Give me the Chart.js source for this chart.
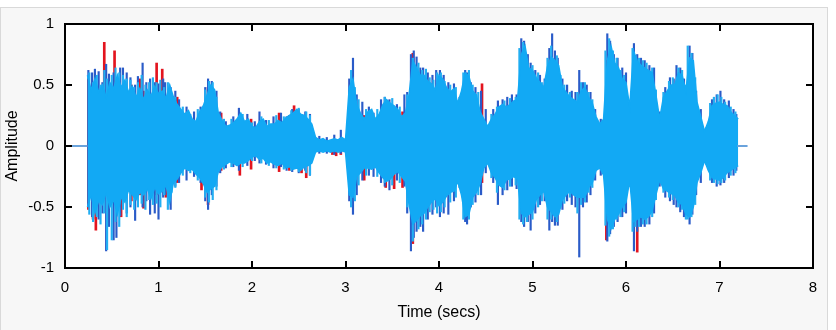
<!DOCTYPE html>
<html><head><meta charset="utf-8">
<script src="https://cdn.jsdelivr.net/npm/chart.js@4.4.1/dist/chart.umd.min.js"></script>
<style>
html,body{margin:0;padding:0;background:#fff;}
#frame{position:absolute;left:0;top:7px;width:826px;height:322px;border:1px solid #d9d9d9;background:#f7f7f7;}
#c{position:absolute;left:0;top:0;}
</style></head><body>
<div id="frame"></div>
<canvas id="c" width="836" height="330"></canvas>
<script>
// ---- data ----
const xTicks = [0,1,2,3,4,5,6,7,8];
const yTicks = [-1,-0.5,0,0.5,1];
const sampleStart = 0.24, sampleStep = 0.04;   // envelope sample times (s)
const coreHi = [
 0.58,0.46,0.55,0.44,0.50,0.40,0.52,0.47,0.58,0.48,
 0.54,0.44,0.49,0.40,0.47,0.38,0.46,0.41,0.49,0.43,
 0.45,0.39,0.50,0.40,0.34,0.30,0.26,0.29,0.22,0.20,
 0.28,0.33,0.42,0.50,0.46,0.27,0.21,0.16,0.17,0.19,
 0.22,0.27,0.20,0.22,0.16,0.15,0.20,0.22,0.16,0.18,
 0.18,0.21,0.19,0.23,0.25,0.27,0.30,0.26,0.25,0.22,
 0.18,0.07,0.05,0.06,0.04,0.05,0.06,0.05,0.07,0.05,
 0.48,0.55,0.34,0.27,0.22,0.28,0.30,0.22,0.26,0.34,
 0.38,0.35,0.33,0.30,0.24,0.27,0.42,0.70,0.64,0.58,
 0.58,0.53,0.51,0.46,0.58,0.55,0.48,0.44,0.47,0.35,
 0.45,0.60,0.57,0.45,0.42,0.28,0.22,0.16,0.22,0.26,
 0.32,0.34,0.32,0.34,0.37,0.38,0.75,0.82,0.64,0.62,
 0.56,0.52,0.48,0.65,0.73,0.70,0.66,0.48,0.44,0.40,
 0.38,0.36,0.45,0.48,0.40,0.35,0.24,0.18,0.22,0.70,
 0.82,0.68,0.64,0.55,0.52,0.32,0.78,0.70,0.66,0.64,
 0.62,0.60,0.42,0.22,0.40,0.45,0.50,0.50,0.60,0.58,
 0.45,0.72,0.70,0.36,0.24,0.12,0.20,0.33,0.35,0.36,
 0.34,0.33,0.28,0.25,0.22];
const coreLo = [
 -0.50,-0.40,-0.55,-0.45,-0.48,-0.38,-0.50,-0.44,-0.56,-0.42,
 -0.46,-0.36,-0.40,-0.44,-0.38,-0.40,-0.35,-0.43,-0.34,-0.39,
 -0.37,-0.32,-0.46,-0.30,-0.27,-0.22,-0.18,-0.20,-0.19,-0.23,
 -0.26,-0.31,-0.38,-0.35,-0.33,-0.21,-0.17,-0.15,-0.13,-0.14,
 -0.16,-0.14,-0.14,-0.12,-0.09,-0.08,-0.11,-0.10,-0.14,-0.13,
 -0.15,-0.16,-0.14,-0.18,-0.17,-0.19,-0.18,-0.20,-0.17,-0.16,
 -0.14,-0.05,-0.04,-0.05,-0.04,-0.05,-0.04,-0.05,-0.04,-0.05,
 -0.40,-0.42,-0.25,-0.22,-0.18,-0.18,-0.19,-0.17,-0.22,-0.26,
 -0.29,-0.27,-0.23,-0.21,-0.25,-0.29,-0.48,-0.64,-0.61,-0.57,
 -0.55,-0.50,-0.46,-0.43,-0.49,-0.46,-0.41,-0.38,-0.37,-0.29,
 -0.40,-0.58,-0.56,-0.42,-0.38,-0.31,-0.18,-0.14,-0.22,-0.26,
 -0.32,-0.34,-0.28,-0.27,-0.25,-0.27,-0.55,-0.58,-0.56,-0.54,
 -0.44,-0.40,-0.37,-0.50,-0.54,-0.58,-0.56,-0.44,-0.40,-0.37,
 -0.40,-0.42,-0.42,-0.42,-0.34,-0.30,-0.20,-0.18,-0.24,-0.60,
 -0.68,-0.60,-0.56,-0.50,-0.46,-0.28,-0.62,-0.60,-0.58,-0.60,
 -0.58,-0.53,-0.40,-0.28,-0.35,-0.37,-0.39,-0.40,-0.46,-0.48,
 -0.56,-0.58,-0.50,-0.30,-0.22,-0.12,-0.20,-0.26,-0.27,-0.28,
 -0.26,-0.22,-0.20,-0.18,-0.16];
const leadT = [0, 0.24], leadV = [0, 0];
const tailT = [7.19, 7.30], tailV = [0, 0];
const lightT  = [0.26,0.30,0.34,0.38,0.42,0.45,0.50,0.54,0.58,0.62,0.66,0.70,0.74,0.78,0.82,0.86,0.90,0.94,0.98,1.02,1.06,1.10,1.14,1.18,1.26,1.34,1.42,1.50,1.54,1.58,1.62,1.70,1.78,1.90,2.00,2.10,2.18,2.26,2.34,2.42,2.50,2.58,2.62,3.06,3.10,3.14,3.22,3.34,3.42,3.50,3.58,3.66,3.72,3.78,3.82,3.86,3.90,3.94,3.98,4.02,4.06,4.12,4.18,4.26,4.32,4.36,4.42,4.56,4.62,4.70,4.76,4.82,4.86,4.90,4.94,5.00,5.06,5.10,5.16,5.20,5.26,5.30,5.34,5.40,5.48,5.52,5.56,5.60,5.64,5.78,5.82,5.86,5.90,5.94,5.98,6.07,6.10,6.14,6.18,6.22,6.28,6.32,6.40,6.46,6.50,6.56,6.60,6.64,6.66,6.70,6.74,6.90,6.94,6.98,7.02,7.06,7.12,7.17];
const lightLo = [-0.56,-0.62,-0.58,-0.64,-0.55,-0.85,-0.77,-0.62,-0.66,-0.52,-0.58,-0.48,-0.52,-0.50,-0.47,-0.52,-0.44,-0.48,-0.47,-0.50,-0.40,-0.52,-0.38,-0.34,-0.24,-0.22,-0.28,-0.42,-0.46,-0.44,-0.36,-0.19,-0.17,-0.17,-0.12,-0.14,-0.16,-0.18,-0.19,-0.20,-0.21,-0.22,-0.24,-0.50,-0.45,-0.32,-0.24,-0.25,-0.30,-0.32,-0.30,-0.50,-0.78,-0.68,-0.64,-0.60,-0.54,-0.52,-0.55,-0.54,-0.50,-0.46,-0.42,-0.60,-0.60,-0.48,-0.40,-0.26,-0.38,-0.36,-0.33,-0.32,-0.60,-0.64,-0.62,-0.60,-0.50,-0.45,-0.60,-0.60,-0.62,-0.50,-0.47,-0.42,-0.55,-0.48,-0.46,-0.38,-0.34,-0.65,-0.74,-0.68,-0.60,-0.58,-0.54,-0.70,-0.66,-0.66,-0.64,-0.64,-0.58,-0.44,-0.38,-0.42,-0.44,-0.50,-0.52,-0.60,-0.60,-0.58,-0.48,-0.28,-0.30,-0.31,-0.30,-0.28,-0.24,-0.22];
const lightHi = [0.60,0.52,0.58,0.50,0.62,0.55,0.58,0.64,0.60,0.58,0.55,0.54,0.48,0.52,0.58,0.50,0.52,0.56,0.52,0.54,0.48,0.52,0.42,0.40,0.32,0.26,0.30,0.46,0.53,0.52,0.40,0.22,0.22,0.26,0.19,0.24,0.21,0.25,0.24,0.29,0.31,0.28,0.25,0.62,0.48,0.38,0.30,0.30,0.40,0.39,0.32,0.42,0.72,0.68,0.62,0.63,0.56,0.54,0.60,0.60,0.53,0.50,0.48,0.60,0.62,0.50,0.44,0.26,0.32,0.37,0.39,0.40,0.80,0.85,0.70,0.66,0.60,0.52,0.72,0.82,0.74,0.58,0.50,0.44,0.44,0.52,0.52,0.44,0.38,0.78,0.88,0.78,0.72,0.62,0.58,0.80,0.74,0.72,0.70,0.68,0.64,0.46,0.44,0.53,0.56,0.64,0.62,0.50,0.82,0.76,0.56,0.35,0.40,0.42,0.40,0.36,0.32,0.28];
const blueT  = [0.25,0.29,0.32,0.36,0.40,0.44,0.47,0.52,0.55,0.59,0.62,0.66,0.70,0.75,0.78,0.83,0.87,0.91,0.96,1.00,1.05,1.07,1.13,1.18,1.22,1.30,1.38,1.45,1.50,1.53,1.57,1.62,1.66,1.72,1.80,1.86,1.95,2.03,2.08,2.15,2.23,2.31,2.37,2.43,2.50,2.57,2.62,2.72,2.80,2.88,2.95,3.04,3.08,3.12,3.18,3.25,3.30,3.38,3.42,3.47,3.55,3.63,3.66,3.70,3.73,3.76,3.80,3.83,3.88,3.93,3.97,4.01,4.05,4.10,4.16,4.22,4.28,4.30,4.34,4.39,4.45,4.50,4.58,4.63,4.68,4.73,4.78,4.83,4.88,4.91,4.95,4.98,5.03,5.08,5.13,5.18,5.21,5.24,5.27,5.32,5.37,5.42,5.46,5.50,5.54,5.58,5.62,5.67,5.73,5.80,5.83,5.87,5.91,5.96,6.00,6.04,6.085,6.12,6.16,6.20,6.25,6.30,6.36,6.42,6.47,6.51,6.54,6.58,6.62,6.68,6.71,6.75,6.80,6.86,6.92,6.97,7.01,7.05,7.10,7.15,7.18];
const blueLo = [-0.50,-0.58,-0.45,-0.60,-0.55,-0.86,-0.66,-0.77,-0.75,-0.57,-0.48,-0.55,-0.50,-0.61,-0.45,-0.50,-0.45,-0.56,-0.55,-0.60,-0.42,-0.40,-0.52,-0.33,-0.30,-0.28,-0.25,-0.30,-0.45,-0.52,-0.40,-0.33,-0.22,-0.18,-0.17,-0.20,-0.16,-0.12,-0.14,-0.15,-0.18,-0.17,-0.20,-0.21,-0.22,-0.20,-0.24,-0.06,-0.06,-0.07,-0.06,-0.45,-0.56,-0.40,-0.28,-0.24,-0.25,-0.30,-0.33,-0.36,-0.28,-0.33,-0.55,-0.86,-0.75,-0.70,-0.66,-0.70,-0.60,-0.56,-0.50,-0.58,-0.55,-0.56,-0.45,-0.34,-0.62,-0.64,-0.50,-0.46,-0.40,-0.22,-0.30,-0.48,-0.40,-0.36,-0.33,-0.35,-0.62,-0.66,-0.62,-0.69,-0.55,-0.48,-0.45,-0.69,-0.62,-0.65,-0.65,-0.52,-0.45,-0.48,-0.50,-0.91,-0.50,-0.46,-0.40,-0.28,-0.24,-0.78,-0.72,-0.66,-0.62,-0.58,-0.55,-0.33,-0.86,-0.70,-0.66,-0.66,-0.64,-0.55,-0.33,-0.42,-0.45,-0.48,-0.50,-0.54,-0.58,-0.64,-0.56,-0.40,-0.30,-0.15,-0.30,-0.33,-0.32,-0.30,-0.26,-0.24,-0.20];
const blueHi = [0.62,0.60,0.63,0.61,0.52,0.67,0.59,0.60,0.55,0.64,0.64,0.60,0.56,0.50,0.57,0.68,0.52,0.55,0.52,0.51,0.55,0.52,0.48,0.45,0.38,0.32,0.28,0.32,0.48,0.55,0.53,0.45,0.28,0.20,0.24,0.31,0.26,0.20,0.28,0.21,0.24,0.27,0.24,0.30,0.30,0.28,0.26,0.08,0.07,0.09,0.13,0.55,0.72,0.42,0.36,0.32,0.27,0.38,0.40,0.38,0.34,0.42,0.44,0.75,0.78,0.73,0.64,0.64,0.60,0.58,0.62,0.62,0.58,0.52,0.51,0.40,0.62,0.60,0.52,0.48,0.45,0.30,0.30,0.37,0.38,0.40,0.42,0.42,0.88,0.86,0.75,0.68,0.62,0.58,0.55,0.80,0.92,0.78,0.72,0.55,0.50,0.45,0.44,0.62,0.52,0.50,0.44,0.30,0.22,0.92,0.86,0.75,0.72,0.64,0.60,0.36,0.84,0.75,0.72,0.70,0.66,0.64,0.28,0.48,0.56,0.55,0.66,0.64,0.55,0.82,0.76,0.45,0.30,0.15,0.38,0.42,0.45,0.38,0.37,0.30,0.26];
const redT  = [0.25,0.30,0.33,0.42,0.53,0.60,0.71,0.80,0.84,0.98,1.04,1.08,1.20,1.46,1.53,1.67,1.87,1.99,2.29,2.40,2.45,2.53,2.58,2.86,2.90,2.95,3.07,3.20,3.43,3.52,3.61,3.72,3.87,4.46,5.79,6.12,6.60];
const redLo = [-0.52,-0.60,-0.69,-0.40,-0.45,-0.58,-0.45,-0.40,-0.51,-0.40,-0.35,-0.42,-0.30,-0.36,-0.48,-0.20,-0.24,-0.19,-0.21,-0.20,-0.18,-0.22,-0.26,-0.07,-0.08,-0.07,-0.48,-0.28,-0.34,-0.35,-0.34,-0.80,-0.50,-0.30,-0.77,-0.87,-0.48];
const redHi = [0.55,0.40,0.50,0.85,0.78,0.45,0.50,0.55,0.45,0.68,0.63,0.40,0.40,0.30,0.48,0.27,0.22,0.22,0.27,0.25,0.33,0.20,0.20,0.05,0.05,0.05,0.40,0.25,0.37,0.30,0.28,0.76,0.45,0.51,0.70,0.60,0.50];

// ---- build ----
const coreT = coreHi.map((_, i) => +(sampleStart + i * sampleStep).toFixed(2));
const pts = (ts, vs) => ts.map((t, i) => ({x: t, y: vs[i]}));
const bars = (ts, lo, hi) => ts.map((t, i) => ({x: t, y: [lo[i], hi[i]]}));

const LIGHT = '#12a9f4', DARK = '#2a5bc8', RED = '#e3141e';

const framePlugin = {
  id: 'frameTicks',
  beforeDraw(chart) {
    const {ctx, chartArea: a} = chart;
    ctx.save(); ctx.fillStyle = '#fff';
    ctx.fillRect(a.left, a.top, a.right - a.left, a.bottom - a.top);
    ctx.restore();
  },
  afterDraw(chart) {
    const {ctx, chartArea: a, scales: {x, y}} = chart;
    const L = 7;
    ctx.save();
    ctx.strokeStyle = '#000'; ctx.lineWidth = 2;
    ctx.beginPath();
    xTicks.forEach(v => {
      const px = Math.round(x.getPixelForValue(v));
      ctx.moveTo(px, a.top); ctx.lineTo(px, a.top + L);
      ctx.moveTo(px, a.bottom); ctx.lineTo(px, a.bottom - L);
    });
    yTicks.forEach(v => {
      const py = Math.round(y.getPixelForValue(v));
      ctx.moveTo(a.left, py); ctx.lineTo(a.left + L, py);
      ctx.moveTo(a.right, py); ctx.lineTo(a.right - L, py);
    });
    ctx.stroke();
    ctx.strokeRect(a.left, a.top, a.right - a.left, a.bottom - a.top);
    ctx.restore();
  }
};

Chart.defaults.font.family = '"Liberation Sans", Arial, sans-serif';
Chart.defaults.color = '#000';

new Chart(document.getElementById('c'), {
  type: 'line',
  data: {
    datasets: [
      {label: 'lead', data: pts(leadT, leadV), borderColor: '#6aa3dc', borderWidth: 2, pointRadius: 0, order: 1},
      {label: 'tail', data: pts(tailT, tailV), borderColor: '#6aa3dc', borderWidth: 2, pointRadius: 0, order: 1},
      {label: 'coreHi', data: pts(coreT, coreHi), borderColor: LIGHT, backgroundColor: LIGHT, borderWidth: 1.5,
        pointRadius: 0, tension: 0, fill: '+1', order: 2},
      {label: 'coreLo', data: pts(coreT, coreLo), borderColor: LIGHT, borderWidth: 1.5, pointRadius: 0, tension: 0, fill: false, order: 2},
      {type: 'bar', label: 'light', data: bars(lightT, lightLo, lightHi), backgroundColor: '#22aef2', barThickness: 1.5, grouped: false, borderWidth: 0, order: 3},
      {type: 'bar', label: 'blue', data: bars(blueT, blueLo, blueHi), backgroundColor: DARK, barThickness: 1.5, grouped: false, borderWidth: 0, order: 4},
      {type: 'bar', label: 'red', data: bars(redT, redLo, redHi), backgroundColor: RED, barThickness: 2, grouped: false, borderWidth: 0, order: 5}
    ]
  },
  options: {
    responsive: false, animation: false, devicePixelRatio: 1,
    layout: {padding: {top: 24, right: 23, left: 0, bottom: 0}},
    plugins: {legend: {display: false}, tooltip: {enabled: false}},
    scales: {
      x: {
        type: 'linear', min: 0, max: 8, offset: false,
        grid: {display: false, drawTicks: false}, border: {display: false},
        afterBuildTicks(s) { s.ticks = xTicks.map(v => ({value: v})); },
        afterFit(s) { s.height = 62; },
        ticks: {padding: 11, font: {size: 15}, color: '#000', maxRotation: 0, callback: v => String(v)},
        title: {display: true, text: 'Time (secs)', font: {size: 16}, color: '#000', padding: {top: 0, bottom: 8}}
      },
      y: {
        type: 'linear', min: -1, max: 1,
        grid: {display: false, drawTicks: false}, border: {display: false},
        afterBuildTicks(s) { s.ticks = yTicks.map(v => ({value: v})); },
        afterFit(s) { s.width = 65; },
        ticks: {padding: 11, font: {size: 15}, color: '#000', callback: v => String(v)},
        title: {display: true, text: 'Amplitude', font: {size: 16}, color: '#000', padding: {top: 3, bottom: 0}}
      }
    }
  },
  plugins: [framePlugin]
});
</script>
</body></html>
